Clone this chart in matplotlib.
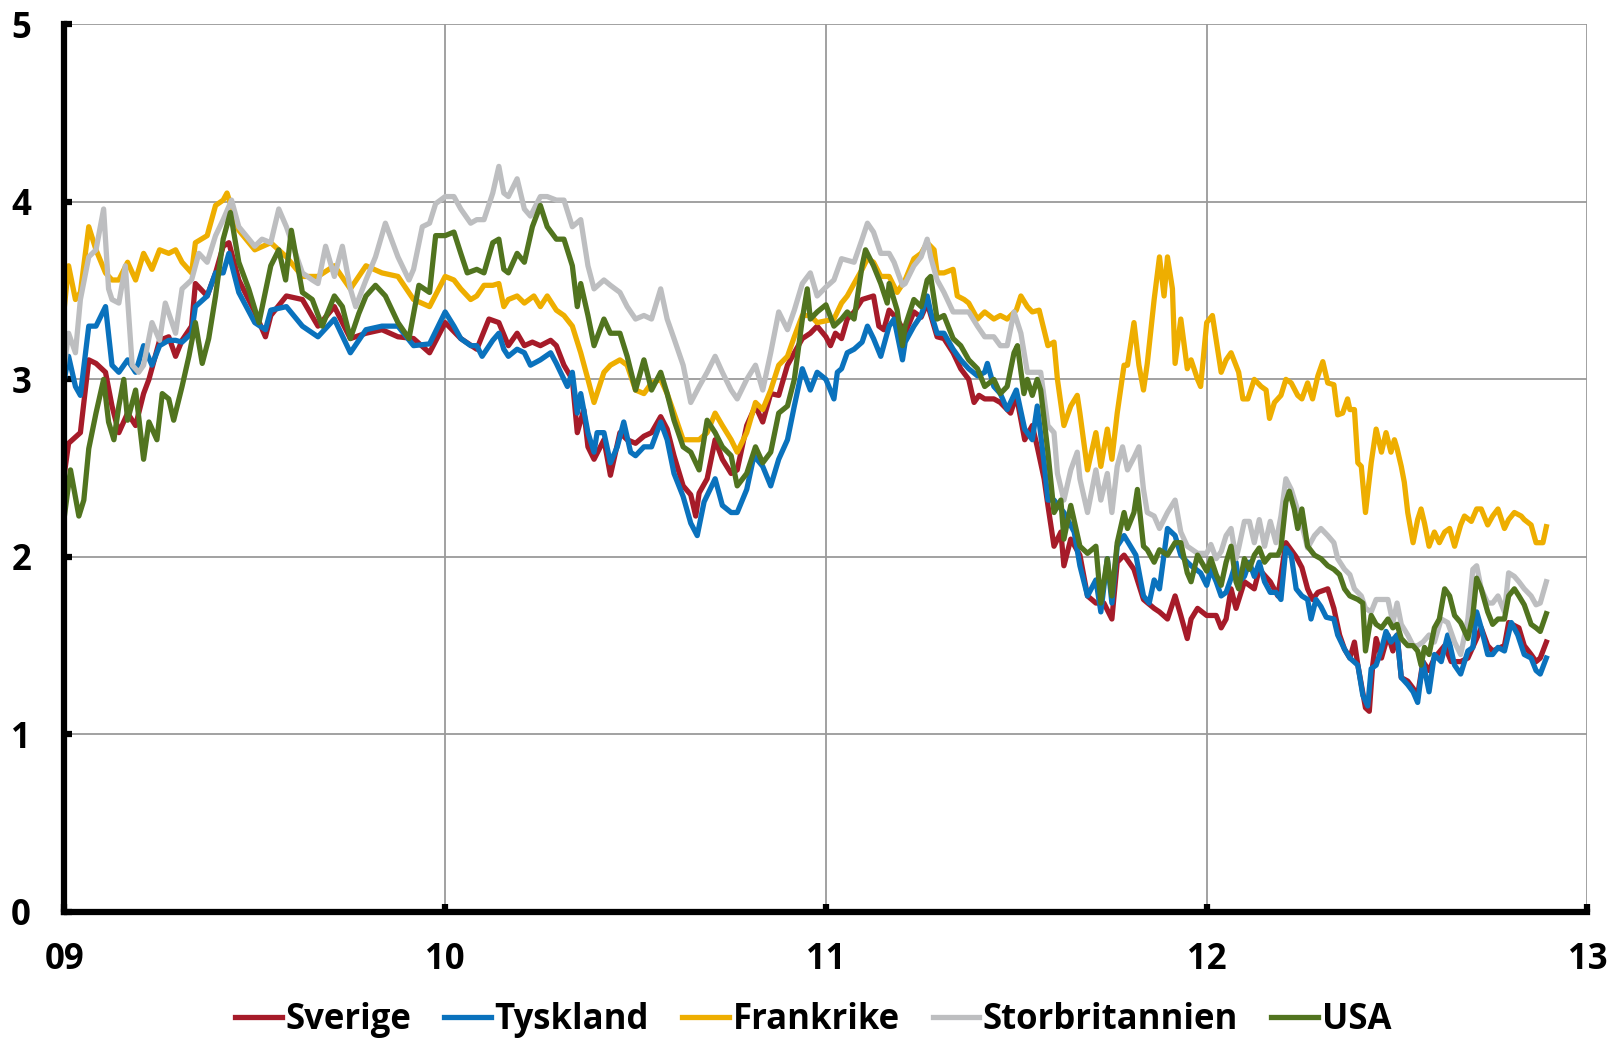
import matplotlib
matplotlib.use('Agg')
import matplotlib.pyplot as plt

# series, x in decimal years
sverige_x = [2009.000, 2009.011, 2009.042, 2009.064, 2009.083, 2009.108, 2009.125, 2009.143, 2009.166, 2009.187,
             2009.208, 2009.222, 2009.250, 2009.274, 2009.292, 2009.309, 2009.334, 2009.344, 2009.375, 2009.397,
             2009.417, 2009.432, 2009.458, 2009.500, 2009.528, 2009.542, 2009.583, 2009.625, 2009.666, 2009.709,
             2009.751, 2009.792, 2009.834, 2009.876, 2009.917, 2009.959,
             2010.000, 2010.041, 2010.083, 2010.115, 2010.141, 2010.166, 2010.189, 2010.208, 2010.229, 2010.250,
             2010.277, 2010.292, 2010.312, 2010.334, 2010.347, 2010.364, 2010.375, 2010.391, 2010.417, 2010.434,
             2010.459, 2010.478, 2010.500, 2010.522, 2010.542, 2010.566, 2010.583, 2010.601, 2010.625, 2010.645,
             2010.658, 2010.667, 2010.688, 2010.709, 2010.728, 2010.751, 2010.767, 2010.792, 2010.815, 2010.834,
             2010.855, 2010.876, 2010.899, 2010.917, 2010.938, 2010.959, 2010.977,
             2011.000, 2011.012, 2011.025, 2011.041, 2011.056, 2011.074, 2011.095, 2011.125, 2011.139, 2011.152,
             2011.166, 2011.187, 2011.208, 2011.231, 2011.250, 2011.266, 2011.292, 2011.310, 2011.334, 2011.354,
             2011.375, 2011.389, 2011.402, 2011.417, 2011.441, 2011.458, 2011.485, 2011.500, 2011.522, 2011.542,
             2011.555, 2011.573, 2011.583, 2011.599, 2011.617, 2011.625, 2011.643, 2011.667, 2011.687, 2011.709,
             2011.730, 2011.751, 2011.765, 2011.783, 2011.809, 2011.834, 2011.862, 2011.876, 2011.897, 2011.917,
             2011.932, 2011.949, 2011.959, 2011.976,
             2012.000, 2012.025, 2012.038, 2012.051, 2012.064, 2012.077, 2012.099, 2012.125, 2012.138, 2012.167,
             2012.187, 2012.208, 2012.235, 2012.250, 2012.265, 2012.278, 2012.292, 2012.318, 2012.334, 2012.349,
             2012.362, 2012.376, 2012.388, 2012.397, 2012.417, 2012.427, 2012.436, 2012.445, 2012.459, 2012.476,
             2012.489, 2012.500, 2012.511, 2012.528, 2012.542, 2012.554, 2012.568, 2012.584, 2012.598, 2012.625,
             2012.642, 2012.667, 2012.686, 2012.709, 2012.721, 2012.738, 2012.751, 2012.782, 2012.793, 2012.820,
             2012.834, 2012.852, 2012.865, 2012.876, 2012.892]
sverige = [2.47, 2.64, 2.70, 3.11, 3.09, 3.04, 2.85, 2.70, 2.81, 2.74,
           2.92, 3.00, 3.22, 3.24, 3.13, 3.22, 3.30, 3.54, 3.47, 3.60,
           3.75, 3.77, 3.56, 3.38, 3.24, 3.36, 3.47, 3.45, 3.30, 3.41,
           3.23, 3.26, 3.28, 3.24, 3.23, 3.15,
           3.32, 3.23, 3.17, 3.34, 3.32, 3.19, 3.26, 3.19, 3.21, 3.19,
           3.22, 3.19, 3.08, 3.00, 2.70, 2.83, 2.62, 2.55, 2.66, 2.46,
           2.70, 2.66, 2.64, 2.68, 2.70, 2.79, 2.72, 2.57, 2.40, 2.35,
           2.23, 2.36, 2.44, 2.66, 2.55, 2.47, 2.49, 2.74, 2.85, 2.76,
           2.92, 2.91, 3.08, 3.15, 3.23, 3.26, 3.30,
           3.24, 3.19, 3.26, 3.23, 3.34, 3.38, 3.45, 3.47, 3.30, 3.28,
           3.39, 3.34, 3.26, 3.38, 3.35, 3.43, 3.24, 3.23, 3.15, 3.06,
           3.00, 2.87, 2.91, 2.89, 2.89, 2.87, 2.81, 2.91, 2.66, 2.74,
           2.62, 2.44, 2.29, 2.06, 2.14, 1.95, 2.10, 2.01, 1.78, 1.74,
           1.74, 1.65, 1.97, 2.01, 1.93, 1.76, 1.71, 1.69, 1.65, 1.78,
           1.67, 1.54, 1.65, 1.71,
           1.67, 1.67, 1.60, 1.65, 1.82, 1.71, 1.86, 1.82, 1.93, 1.86,
           1.78, 2.08, 2.00, 1.94, 1.82, 1.76, 1.80, 1.82, 1.71, 1.56,
           1.48, 1.43, 1.52, 1.39, 1.15, 1.13, 1.39, 1.54, 1.43, 1.56,
           1.47, 1.56, 1.32, 1.30, 1.26, 1.22, 1.41, 1.36, 1.43, 1.50,
           1.41, 1.41, 1.43, 1.54, 1.60, 1.50, 1.47, 1.50, 1.63, 1.60,
           1.50, 1.45, 1.41, 1.43, 1.52]

tyskland_x = [2009.000, 2009.011, 2009.029, 2009.042, 2009.064, 2009.083, 2009.108, 2009.125, 2009.143, 2009.166,
              2009.187, 2009.208, 2009.230, 2009.250, 2009.274, 2009.292, 2009.309, 2009.334, 2009.344, 2009.375,
              2009.397, 2009.417, 2009.432, 2009.458, 2009.500, 2009.528, 2009.542, 2009.583, 2009.625, 2009.666,
              2009.709, 2009.751, 2009.792, 2009.834, 2009.876, 2009.917, 2009.959,
              2010.000, 2010.023, 2010.041, 2010.067, 2010.083, 2010.097, 2010.125, 2010.141, 2010.154, 2010.166,
              2010.189, 2010.208, 2010.224, 2010.250, 2010.277, 2010.292, 2010.321, 2010.334, 2010.347, 2010.356,
              2010.375, 2010.391, 2010.399, 2010.417, 2010.434, 2010.452, 2010.469, 2010.487, 2010.500, 2010.522,
              2010.542, 2010.566, 2010.583, 2010.601, 2010.625, 2010.645, 2010.662, 2010.680, 2010.709, 2010.728,
              2010.751, 2010.767, 2010.792, 2010.811, 2010.834, 2010.855, 2010.876, 2010.899, 2010.917, 2010.938,
              2010.959, 2010.977,
              2011.000, 2011.021, 2011.030, 2011.041, 2011.056, 2011.074, 2011.095, 2011.109, 2011.125, 2011.144,
              2011.166, 2011.179, 2011.201, 2011.208, 2011.231, 2011.250, 2011.266, 2011.275, 2011.292, 2011.310,
              2011.334, 2011.354, 2011.375, 2011.398, 2011.417, 2011.424, 2011.441, 2011.458, 2011.476, 2011.500,
              2011.522, 2011.542, 2011.555, 2011.573, 2011.583, 2011.599, 2011.625, 2011.652, 2011.667, 2011.687,
              2011.709, 2011.722, 2011.739, 2011.751, 2011.765, 2011.783, 2011.800, 2011.814, 2011.834, 2011.849,
              2011.862, 2011.876, 2011.897, 2011.917, 2011.932, 2011.949, 2011.959, 2011.984,
              2012.000, 2012.011, 2012.025, 2012.038, 2012.051, 2012.064, 2012.077, 2012.084, 2012.099, 2012.112,
              2012.125, 2012.138, 2012.152, 2012.167, 2012.182, 2012.195, 2012.208, 2012.222, 2012.235, 2012.250,
              2012.265, 2012.274, 2012.287, 2012.300, 2012.314, 2012.334, 2012.344, 2012.362, 2012.376, 2012.397,
              2012.410, 2012.423, 2012.432, 2012.445, 2012.459, 2012.471, 2012.484, 2012.500, 2012.511, 2012.528,
              2012.542, 2012.554, 2012.568, 2012.584, 2012.598, 2012.616, 2012.633, 2012.651, 2012.667, 2012.686,
              2012.699, 2012.709, 2012.721, 2012.738, 2012.751, 2012.765, 2012.782, 2012.800, 2012.817, 2012.834,
              2012.852, 2012.865, 2012.876, 2012.892]
tyskland = [3.00, 3.13, 2.96, 2.91, 3.30, 3.30, 3.41, 3.08, 3.04, 3.11,
            3.04, 3.19, 3.08, 3.19, 3.22, 3.22, 3.21, 3.26, 3.41, 3.47,
            3.60, 3.60, 3.71, 3.49, 3.32, 3.28, 3.39, 3.41, 3.30, 3.24,
            3.34, 3.15, 3.28, 3.30, 3.30, 3.19, 3.20,
            3.38, 3.30, 3.23, 3.19, 3.19, 3.13, 3.22, 3.26, 3.17, 3.13,
            3.17, 3.15, 3.08, 3.11, 3.15, 3.09, 2.96, 3.04, 2.81, 2.92,
            2.70, 2.59, 2.70, 2.70, 2.53, 2.62, 2.76, 2.59, 2.57, 2.62,
            2.62, 2.76, 2.66, 2.47, 2.34, 2.19, 2.12, 2.31, 2.44, 2.29,
            2.25, 2.25, 2.38, 2.57, 2.51, 2.40, 2.55, 2.66, 2.85, 3.06,
            2.94, 3.04,
            3.00, 2.89, 3.04, 3.06, 3.15, 3.17, 3.21, 3.30, 3.23, 3.13,
            3.30, 3.34, 3.11, 3.21, 3.30, 3.36, 3.47, 3.38, 3.26, 3.26,
            3.17, 3.11, 3.06, 3.02, 3.04, 3.09, 2.96, 2.92, 2.83, 2.94,
            2.72, 2.66, 2.85, 2.53, 2.32, 2.32, 2.25, 2.14, 1.95, 1.78,
            1.87, 1.69, 1.99, 1.74, 2.06, 2.12, 2.06, 2.01, 1.78, 1.74,
            1.87, 1.82, 2.16, 2.12, 2.01, 1.97, 1.95, 1.91,
            1.84, 1.93, 1.86, 1.78, 1.80, 1.88, 1.97, 1.86, 1.89, 1.97,
            1.89, 1.97, 1.86, 1.80, 1.80, 1.76, 2.05, 2.01, 1.82, 1.78,
            1.76, 1.65, 1.76, 1.72, 1.66, 1.65, 1.56, 1.48, 1.43, 1.39,
            1.22, 1.16, 1.37, 1.39, 1.48, 1.58, 1.52, 1.56, 1.32, 1.28,
            1.24, 1.18, 1.41, 1.24, 1.45, 1.41, 1.56, 1.39, 1.34, 1.47,
            1.49, 1.69, 1.60, 1.45, 1.45, 1.49, 1.47, 1.63, 1.56, 1.45,
            1.43, 1.36, 1.34, 1.43]

frankrike_x = [2009.000, 2009.011, 2009.029, 2009.042, 2009.064, 2009.083, 2009.108, 2009.125, 2009.143, 2009.166,
               2009.187, 2009.208, 2009.230, 2009.250, 2009.274, 2009.292, 2009.309, 2009.334, 2009.344, 2009.375,
               2009.397, 2009.417, 2009.427, 2009.458, 2009.500, 2009.542, 2009.583, 2009.625, 2009.666, 2009.709,
               2009.751, 2009.792, 2009.834, 2009.876, 2009.917, 2009.959,
               2010.000, 2010.023, 2010.041, 2010.067, 2010.083, 2010.102, 2010.125, 2010.141, 2010.154, 2010.166,
               2010.189, 2010.208, 2010.233, 2010.250, 2010.268, 2010.292, 2010.312, 2010.334, 2010.356, 2010.375,
               2010.391, 2010.417, 2010.434, 2010.459, 2010.478, 2010.500, 2010.522, 2010.542, 2010.566, 2010.583,
               2010.601, 2010.625, 2010.645, 2010.667, 2010.688, 2010.709, 2010.728, 2010.751, 2010.767, 2010.792,
               2010.815, 2010.834, 2010.855, 2010.876, 2010.899, 2010.917, 2010.938, 2010.959, 2010.977,
               2011.000, 2011.021, 2011.041, 2011.056, 2011.074, 2011.095, 2011.109, 2011.125, 2011.144, 2011.166,
               2011.187, 2011.208, 2011.231, 2011.250, 2011.266, 2011.284, 2011.292, 2011.310, 2011.334, 2011.345,
               2011.363, 2011.375, 2011.398, 2011.417, 2011.441, 2011.458, 2011.476, 2011.500, 2011.512, 2011.529,
               2011.542, 2011.560, 2011.583, 2011.599, 2011.608, 2011.625, 2011.643, 2011.660, 2011.667, 2011.687,
               2011.709, 2011.722, 2011.739, 2011.751, 2011.765, 2011.783, 2011.792, 2011.809, 2011.822, 2011.834,
               2011.844, 2011.862, 2011.876, 2011.888, 2011.897, 2011.910, 2011.917, 2011.932, 2011.949, 2011.959,
               2011.976, 2011.984,
               2012.000, 2012.015, 2012.038, 2012.051, 2012.064, 2012.084, 2012.095, 2012.108, 2012.125, 2012.143,
               2012.156, 2012.165, 2012.178, 2012.195, 2012.208, 2012.222, 2012.239, 2012.250, 2012.265, 2012.278,
               2012.292, 2012.305, 2012.318, 2012.334, 2012.344, 2012.357, 2012.370, 2012.376, 2012.388, 2012.397,
               2012.406, 2012.417, 2012.432, 2012.445, 2012.459, 2012.471, 2012.484, 2012.493, 2012.500, 2012.511,
               2012.519, 2012.528, 2012.542, 2012.554, 2012.563, 2012.572, 2012.584, 2012.598, 2012.611, 2012.625,
               2012.638, 2012.651, 2012.667, 2012.677, 2012.695, 2012.709, 2012.721, 2012.738, 2012.751, 2012.765,
               2012.782, 2012.793, 2012.808, 2012.826, 2012.834, 2012.852, 2012.865, 2012.876, 2012.883, 2012.892]
frankrike = [3.41, 3.64, 3.45, 3.49, 3.86, 3.73, 3.60, 3.56, 3.56, 3.66,
             3.56, 3.71, 3.62, 3.73, 3.71, 3.73, 3.66, 3.60, 3.77, 3.81,
             3.98, 4.01, 4.05, 3.84, 3.73, 3.77, 3.69, 3.58, 3.58, 3.64,
             3.51, 3.64, 3.60, 3.58, 3.45, 3.41,
             3.58, 3.56, 3.51, 3.45, 3.47, 3.53, 3.53, 3.54, 3.41, 3.45,
             3.47, 3.43, 3.47, 3.41, 3.47, 3.39, 3.36, 3.30, 3.15, 3.00,
             2.87, 3.04, 3.08, 3.11, 3.08, 2.94, 2.92, 2.98, 3.00, 2.92,
             2.81, 2.66, 2.66, 2.66, 2.70, 2.81, 2.74, 2.66, 2.59, 2.70,
             2.87, 2.83, 2.94, 3.08, 3.13, 3.24, 3.36, 3.36, 3.32,
             3.33, 3.34, 3.43, 3.47, 3.54, 3.62, 3.68, 3.66, 3.58, 3.58,
             3.49, 3.56, 3.68, 3.71, 3.77, 3.73, 3.60, 3.60, 3.62, 3.47,
             3.45, 3.43, 3.34, 3.38, 3.34, 3.36, 3.34, 3.39, 3.47, 3.41,
             3.38, 3.39, 3.19, 3.21, 3.00, 2.74, 2.85, 2.91, 2.81, 2.49,
             2.70, 2.51, 2.72, 2.55, 2.81, 3.08, 3.08, 3.32, 3.08, 2.94,
             3.09, 3.45, 3.69, 3.47, 3.69, 3.51, 3.09, 3.34, 3.06, 3.11,
             3.00, 2.96,
             3.32, 3.36, 3.04, 3.11, 3.15, 3.04, 2.89, 2.89, 3.00, 2.96,
             2.94, 2.78, 2.87, 2.91, 3.00, 2.98, 2.91, 2.89, 2.98, 2.89,
             3.02, 3.10, 2.98, 2.97, 2.80, 2.81, 2.89, 2.83, 2.83, 2.53,
             2.51, 2.25, 2.53, 2.72, 2.59, 2.70, 2.59, 2.66, 2.61, 2.51,
             2.42, 2.25, 2.08, 2.21, 2.27, 2.19, 2.06, 2.14, 2.08, 2.14,
             2.16, 2.06, 2.18, 2.23, 2.20, 2.27, 2.27, 2.18, 2.23, 2.27,
             2.16, 2.21, 2.25, 2.23, 2.21, 2.18, 2.08, 2.08, 2.08, 2.17]

storbritannien_x = [2009.000, 2009.011, 2009.029, 2009.042, 2009.064, 2009.083, 2009.103, 2009.116, 2009.125, 2009.143,
                    2009.160, 2009.178, 2009.195, 2009.208, 2009.230, 2009.250, 2009.265, 2009.292, 2009.309, 2009.334,
                    2009.353, 2009.375, 2009.397, 2009.417, 2009.439, 2009.458, 2009.500, 2009.519, 2009.542, 2009.563,
                    2009.583, 2009.625, 2009.651, 2009.666, 2009.686, 2009.709, 2009.730, 2009.751, 2009.765, 2009.792,
                    2009.817, 2009.843, 2009.876, 2009.905, 2009.917, 2009.940, 2009.959, 2009.975,
                    2010.000, 2010.023, 2010.041, 2010.067, 2010.083, 2010.102, 2010.125, 2010.141, 2010.154, 2010.166,
                    2010.189, 2010.208, 2010.224, 2010.250, 2010.268, 2010.292, 2010.312, 2010.334, 2010.356, 2010.375,
                    2010.391, 2010.417, 2010.434, 2010.459, 2010.478, 2010.500, 2010.522, 2010.542, 2010.566, 2010.583,
                    2010.601, 2010.625, 2010.645, 2010.667, 2010.688, 2010.709, 2010.728, 2010.751, 2010.767, 2010.792,
                    2010.815, 2010.834, 2010.855, 2010.876, 2010.899, 2010.917, 2010.938, 2010.959, 2010.977,
                    2011.000, 2011.021, 2011.041, 2011.074, 2011.095, 2011.109, 2011.125, 2011.144, 2011.166, 2011.179,
                    2011.201, 2011.208, 2011.231, 2011.250, 2011.266, 2011.275, 2011.292, 2011.310, 2011.334, 2011.375,
                    2011.398, 2011.417, 2011.441, 2011.458, 2011.476, 2011.494, 2011.512, 2011.529, 2011.564, 2011.583,
                    2011.599, 2011.608, 2011.625, 2011.643, 2011.660, 2011.667, 2011.687, 2011.709, 2011.722, 2011.739,
                    2011.751, 2011.765, 2011.779, 2011.792, 2011.809, 2011.822, 2011.834, 2011.844, 2011.862, 2011.876,
                    2011.897, 2011.917, 2011.932, 2011.949, 2011.976,
                    2012.000, 2012.011, 2012.025, 2012.038, 2012.051, 2012.064, 2012.077, 2012.084, 2012.099, 2012.112,
                    2012.125, 2012.138, 2012.152, 2012.167, 2012.182, 2012.195, 2012.208, 2012.222, 2012.235, 2012.250,
                    2012.265, 2012.283, 2012.300, 2012.318, 2012.334, 2012.344, 2012.362, 2012.376, 2012.388, 2012.406,
                    2012.417, 2012.432, 2012.445, 2012.459, 2012.476, 2012.489, 2012.500, 2012.511, 2012.528, 2012.542,
                    2012.554, 2012.568, 2012.584, 2012.598, 2012.616, 2012.633, 2012.651, 2012.667, 2012.686, 2012.699,
                    2012.709, 2012.721, 2012.738, 2012.751, 2012.765, 2012.782, 2012.793, 2012.808, 2012.820, 2012.834,
                    2012.852, 2012.865, 2012.876, 2012.892]
storbritannien = [3.08, 3.26, 3.15, 3.45, 3.69, 3.73, 3.96, 3.51, 3.45, 3.43,
                  3.64, 3.08, 3.04, 3.08, 3.32, 3.22, 3.43, 3.26, 3.51, 3.56,
                  3.71, 3.66, 3.81, 3.90, 4.01, 3.86, 3.75, 3.79, 3.77, 3.96,
                  3.86, 3.60, 3.56, 3.54, 3.75, 3.58, 3.75, 3.51, 3.41, 3.56,
                  3.69, 3.88, 3.69, 3.56, 3.62, 3.86, 3.88, 3.99,
                  4.03, 4.03, 3.96, 3.88, 3.90, 3.90, 4.05, 4.20, 4.05, 4.03,
                  4.13, 3.96, 3.92, 4.03, 4.03, 4.01, 4.01, 3.86, 3.90, 3.64,
                  3.51, 3.56, 3.53, 3.49, 3.41, 3.34, 3.36, 3.34, 3.51, 3.34,
                  3.23, 3.08, 2.87, 2.96, 3.04, 3.13, 3.04, 2.94, 2.89, 3.00,
                  3.08, 2.94, 3.15, 3.38, 3.28, 3.39, 3.54, 3.60, 3.47,
                  3.52, 3.56, 3.68, 3.66, 3.79, 3.88, 3.83, 3.71, 3.71, 3.66,
                  3.53, 3.54, 3.64, 3.69, 3.79, 3.69, 3.56, 3.49, 3.38, 3.38,
                  3.30, 3.24, 3.24, 3.19, 3.19, 3.38, 3.26, 3.04, 3.04, 2.74,
                  2.70, 2.47, 2.32, 2.49, 2.59, 2.44, 2.25, 2.49, 2.32, 2.47,
                  2.25, 2.51, 2.62, 2.49, 2.56, 2.62, 2.38, 2.25, 2.23, 2.16,
                  2.25, 2.32, 2.14, 2.06, 2.02,
                  2.02, 2.07, 1.99, 2.03, 2.12, 2.16, 1.99, 2.05, 2.20, 2.20,
                  2.08, 2.21, 2.06, 2.20, 2.08, 2.23, 2.44, 2.38, 2.29, 2.18,
                  2.05, 2.12, 2.16, 2.12, 2.08, 1.99, 1.93, 1.90, 1.82, 1.78,
                  1.71, 1.69, 1.76, 1.76, 1.76, 1.63, 1.74, 1.62, 1.56, 1.50,
                  1.50, 1.52, 1.56, 1.52, 1.65, 1.63, 1.52, 1.45, 1.65, 1.93,
                  1.95, 1.82, 1.74, 1.74, 1.78, 1.69, 1.91, 1.89, 1.86, 1.82,
                  1.78, 1.73, 1.74, 1.86]

usa_x = [2009.000, 2009.016, 2009.038, 2009.051, 2009.064, 2009.083, 2009.103, 2009.116, 2009.130, 2009.143,
         2009.156, 2009.166, 2009.187, 2009.208, 2009.222, 2009.243, 2009.257, 2009.274, 2009.287, 2009.309,
         2009.327, 2009.344, 2009.362, 2009.379, 2009.397, 2009.417, 2009.436, 2009.458, 2009.484, 2009.511,
         2009.542, 2009.563, 2009.581, 2009.596, 2009.625, 2009.651, 2009.677, 2009.709, 2009.730, 2009.751,
         2009.773, 2009.792, 2009.817, 2009.843, 2009.876, 2009.905, 2009.931, 2009.959, 2009.975,
         2010.000, 2010.023, 2010.041, 2010.058, 2010.083, 2010.102, 2010.125, 2010.141, 2010.154, 2010.166,
         2010.189, 2010.208, 2010.229, 2010.250, 2010.268, 2010.292, 2010.312, 2010.334, 2010.347, 2010.356,
         2010.375, 2010.391, 2010.417, 2010.434, 2010.459, 2010.478, 2010.500, 2010.522, 2010.542, 2010.566,
         2010.583, 2010.601, 2010.625, 2010.645, 2010.667, 2010.688, 2010.709, 2010.728, 2010.751, 2010.767,
         2010.792, 2010.815, 2010.834, 2010.855, 2010.876, 2010.899, 2010.917, 2010.938, 2010.951, 2010.959,
         2010.977,
         2011.000, 2011.021, 2011.041, 2011.056, 2011.074, 2011.095, 2011.104, 2011.125, 2011.144, 2011.161,
         2011.166, 2011.187, 2011.201, 2011.208, 2011.231, 2011.250, 2011.266, 2011.275, 2011.292, 2011.310,
         2011.334, 2011.354, 2011.375, 2011.398, 2011.417, 2011.441, 2011.458, 2011.476, 2011.494, 2011.503,
         2011.520, 2011.529, 2011.542, 2011.555, 2011.564, 2011.583, 2011.599, 2011.617, 2011.625, 2011.643,
         2011.667, 2011.687, 2011.709, 2011.722, 2011.739, 2011.751, 2011.765, 2011.783, 2011.792, 2011.809,
         2011.818, 2011.834, 2011.844, 2011.862, 2011.876, 2011.897, 2011.917, 2011.932, 2011.949, 2011.959,
         2011.976,
         2012.000, 2012.011, 2012.025, 2012.038, 2012.051, 2012.064, 2012.077, 2012.084, 2012.099, 2012.112,
         2012.125, 2012.138, 2012.152, 2012.167, 2012.187, 2012.195, 2012.208, 2012.217, 2012.230, 2012.239,
         2012.250, 2012.265, 2012.283, 2012.300, 2012.318, 2012.334, 2012.349, 2012.362, 2012.376, 2012.397,
         2012.410, 2012.417, 2012.432, 2012.445, 2012.459, 2012.476, 2012.489, 2012.500, 2012.511, 2012.528,
         2012.542, 2012.554, 2012.563, 2012.572, 2012.584, 2012.598, 2012.611, 2012.625, 2012.638, 2012.651,
         2012.667, 2012.686, 2012.699, 2012.709, 2012.721, 2012.738, 2012.751, 2012.765, 2012.782, 2012.793,
         2012.808, 2012.820, 2012.834, 2012.852, 2012.865, 2012.876, 2012.892]
usa = [2.23, 2.49, 2.23, 2.32, 2.61, 2.81, 3.00, 2.76, 2.66, 2.85,
       3.00, 2.77, 2.94, 2.55, 2.76, 2.66, 2.92, 2.89, 2.77, 2.96,
       3.13, 3.32, 3.09, 3.23, 3.47, 3.79, 3.94, 3.66, 3.51, 3.32,
       3.64, 3.73, 3.56, 3.84, 3.49, 3.45, 3.30, 3.47, 3.41, 3.23,
       3.37, 3.47, 3.53, 3.47, 3.32, 3.23, 3.53, 3.49, 3.81,
       3.81, 3.83, 3.71, 3.60, 3.62, 3.60, 3.77, 3.79, 3.62, 3.60,
       3.71, 3.66, 3.86, 3.98, 3.86, 3.79, 3.79, 3.64, 3.41, 3.54,
       3.36, 3.19, 3.34, 3.26, 3.26, 3.13, 2.94, 3.11, 2.94, 3.04,
       2.92, 2.77, 2.62, 2.59, 2.49, 2.77, 2.70, 2.62, 2.57, 2.40,
       2.47, 2.62, 2.53, 2.59, 2.81, 2.85, 3.00, 3.34, 3.51, 3.34,
       3.38,
       3.42, 3.30, 3.34, 3.38, 3.34, 3.64, 3.73, 3.64, 3.54, 3.43,
       3.54, 3.39, 3.19, 3.30, 3.45, 3.41, 3.56, 3.58, 3.34, 3.36,
       3.23, 3.19, 3.11, 3.06, 2.96, 3.00, 2.92, 2.96, 3.15, 3.19,
       2.92, 3.00, 2.91, 3.00, 2.94, 2.59, 2.25, 2.32, 2.10, 2.29,
       2.06, 2.02, 2.06, 1.74, 1.99, 1.78, 2.08, 2.25, 2.16, 2.25,
       2.38, 2.06, 2.04, 1.97, 2.04, 2.01, 2.08, 2.08, 1.91, 1.86,
       2.01,
       1.92, 1.99, 1.90, 1.84, 1.97, 2.06, 1.86, 1.82, 1.99, 1.93,
       2.01, 2.05, 1.97, 2.01, 2.01, 2.05, 2.31, 2.37, 2.27, 2.16,
       2.27, 2.06, 2.01, 1.99, 1.95, 1.93, 1.90, 1.82, 1.78, 1.76,
       1.74, 1.47, 1.67, 1.62, 1.60, 1.65, 1.60, 1.62, 1.54, 1.50,
       1.50, 1.47, 1.39, 1.49, 1.45, 1.60, 1.65, 1.82, 1.78, 1.67,
       1.63, 1.54, 1.67, 1.88, 1.82, 1.69, 1.62, 1.65, 1.65, 1.78,
       1.82, 1.78, 1.73, 1.62, 1.60, 1.58, 1.68]

year_ticks = [2009, 2010, 2011, 2012, 2013]
year_labels = ['09', '10', '11', '12', '13']
y_ticks = [0, 1, 2, 3, 4, 5]

names = ['Sverige', 'Tyskland', 'Frankrike', 'Storbritannien', 'USA']
colors = ['#A61B29', '#0A72BD', '#EEAE00', '#BDBEC0', '#51741F']

plt.rcParams['font.family'] = ['Open Sans', 'DejaVu Sans']
plt.rcParams['font.weight'] = 'bold'

fig = plt.figure(figsize=(16.10, 10.38), dpi=100)
ax = fig.add_axes([0.040, 0.1215, 0.946, 0.855])

series = [(sverige_x, sverige), (tyskland_x, tyskland), (frankrike_x, frankrike),
          (storbritannien_x, storbritannien), (usa_x, usa)]
for (xs, ys), name, c in zip(series, names, colors):
    ax.plot(xs, ys, color=c, lw=3.8, label=name, solid_joinstyle='round')

ax.set_xlim(2009, 2013)
ax.set_ylim(0, 5)
ax.set_xticks(year_ticks)
ax.set_xticklabels(year_labels)
ax.set_yticks(y_ticks)

ax.grid(True, color='#9a9a9a', lw=1.3)
ax.set_axisbelow(True)
for side in ['top', 'right']:
    ax.spines[side].set_visible(False)
for side in ['left', 'bottom']:
    ax.spines[side].set_linewidth(4.5)
    ax.spines[side].set_color('black')

ax.tick_params(axis='both', direction='in', length=6, width=4.5, labelsize=25)
ax.tick_params(axis='x', pad=22)
ax.tick_params(axis='y', pad=24)
for lab in ax.get_xticklabels() + ax.get_yticklabels():
    lab.set_fontweight('bold')

fig.legend(loc='lower center', bbox_to_anchor=(0.505, -0.03), ncol=5, frameon=False,
           handlelength=1.35, handletextpad=0.1, columnspacing=0.95,
           prop={'weight': 'bold', 'size': 25})

fig.savefig('out.png', dpi=100)
